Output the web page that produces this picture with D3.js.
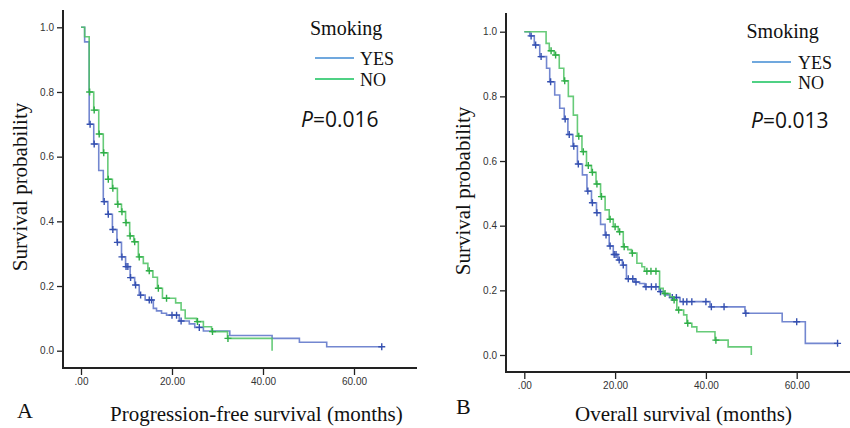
<!DOCTYPE html>
<html><head><meta charset="utf-8">
<script src="https://cdn.jsdelivr.net/npm/d3@7"></script>
<style>body{margin:0;background:#fff} svg{display:block}</style>
</head><body>
<svg id="c" width="850" height="428"></svg>
<script>
// ---------- data ----------
const yTicks = [0, 0.2, 0.4, 0.6, 0.8, 1.0];
const xTicks = [0, 20, 40, 60];
const seriesNames = ["YES", "NO"];
const legendTitle = "Smoking";
const panelLetters = ["A", "B"];
const xTitles = ["Progression-free survival (months)", "Overall survival (months)"];
const yTitle = "Survival probability";
const pLabels = ["0.016", "0.013"];

// Panel A: progression-free survival, smokers (YES)
const pfsYesTimes = [0, 0.8, 1.8, 2.8, 3.9, 4.9, 5.9, 6.9, 7.9, 8.9, 9.8, 10.8, 11.8, 12.8, 14.1, 15.9, 16.6, 17.7, 18.8, 21.6, 23.8, 25.0, 26.9, 32.7, 42.0, 48.0, 54.0];
const pfsYesSurv  = [1.0, 0.955, 0.70, 0.639, 0.557, 0.461, 0.422, 0.375, 0.335, 0.29, 0.26, 0.226, 0.203, 0.172, 0.157, 0.131, 0.123, 0.116, 0.11, 0.092, 0.083, 0.072, 0.061, 0.047, 0.038, 0.026, 0.012];
const pfsYesCensor = [2.0, 2.9, 5.1, 6.0, 7.0, 8.0, 9.0, 9.9, 10.3, 10.9, 12.0, 13.1, 15.0, 15.5, 20.0, 21.0, 22.0, 26.0, 66.1];
const pfsYesEnd = 66.1;
// Panel A: non-smokers (NO)
const pfsNoTimes = [0, 0.8, 1.8, 2.8, 3.9, 4.9, 5.9, 6.9, 8.0, 8.9, 9.8, 10.7, 11.6, 12.6, 13.7, 14.7, 15.8, 16.8, 17.9, 20.8, 22.0, 22.9, 25.4, 26.9, 28.7, 32.2, 42.0];
const pfsNoSurv  = [1.0, 0.971, 0.80, 0.744, 0.67, 0.612, 0.53, 0.502, 0.453, 0.43, 0.396, 0.355, 0.337, 0.29, 0.27, 0.247, 0.227, 0.193, 0.162, 0.148, 0.126, 0.10, 0.09, 0.074, 0.059, 0.038, 0.0];
const pfsNoCensor = [1.9, 2.9, 4.0, 5.0, 6.0, 7.0, 8.1, 9.0, 9.9, 10.8, 11.8, 12.8, 15.0, 17.0, 18.8, 25.6, 28.9, 32.3];
const pfsNoEnd = 42.0;

// Panel B: overall survival, smokers (YES)
const osYesTimes = [0, 1.2, 2.2, 3.4, 4.9, 5.6, 6.7, 7.8, 8.8, 9.6, 10.7, 11.7, 12.8, 13.8, 14.8, 15.9, 16.8, 17.8, 18.7, 19.6, 20.6, 21.6, 22.5, 24.3, 25.4, 26.5, 29.7, 30.8, 32.0, 34.3, 40.9, 48.6, 56.8, 61.9];
const osYesSurv  = [1.0, 0.987, 0.959, 0.923, 0.887, 0.845, 0.804, 0.763, 0.73, 0.682, 0.646, 0.591, 0.557, 0.507, 0.471, 0.44, 0.404, 0.371, 0.337, 0.311, 0.294, 0.278, 0.236, 0.226, 0.221, 0.211, 0.196, 0.186, 0.178, 0.165, 0.149, 0.129, 0.103, 0.036];
const osYesCensor = [1.5, 2.5, 3.7, 5.8, 9.0, 9.9, 10.9, 11.9, 14.0, 15.0, 16.0, 18.0, 18.9, 19.8, 20.2, 20.9, 21.8, 22.9, 23.9, 24.6, 26.8, 28.0, 29.0, 30.0, 32.6, 33.5, 35.0, 35.8, 36.9, 40.0, 41.2, 44.0, 48.8, 60.0, 69.0];
const osYesEnd = 69.0;
// Panel B: non-smokers (NO)
const osNoTimes = [0, 4.8, 5.5, 6.6, 7.7, 8.7, 9.7, 10.8, 11.7, 12.7, 13.7, 14.8, 15.8, 16.8, 17.8, 18.7, 19.6, 20.7, 21.8, 22.8, 23.6, 24.8, 25.9, 26.5, 29.8, 30.6, 32.1, 32.9, 33.6, 35.1, 35.8, 36.9, 38.0, 42.0, 44.9, 50.0];
const osNoSurv  = [1.0, 0.964, 0.941, 0.928, 0.887, 0.848, 0.80, 0.742, 0.677, 0.629, 0.586, 0.565, 0.529, 0.49, 0.449, 0.42, 0.397, 0.381, 0.335, 0.326, 0.315, 0.284, 0.273, 0.259, 0.206, 0.19, 0.18, 0.17, 0.139, 0.124, 0.098, 0.087, 0.072, 0.046, 0.025, 0.0];
const osNoCensor = [5.9, 6.9, 8.9, 12.0, 13.0, 14.1, 15.0, 16.0, 17.0, 18.9, 20.0, 21.0, 22.0, 23.8, 27.0, 27.9, 29.0, 31.0, 33.0, 34.0, 36.0, 42.2];
const osNoEnd = 50.0;

// ---------- styles ----------
const curveColors = ["#5a72c8", "#4cc262"];
const markColors = ["#3550b0", "#2fae48"];
const legendColors = ["#70a8de", "#4fd184"];
const serif = "'Liberation Serif','Times New Roman',serif";
const sans = "'Liberation Sans',Arial,sans-serif";

const svg = d3.select("#c");

const panels = [
  { x0: 81, x60: 354, y0: 350.7, y1: 27.3, axX: 63, axY: 368, axTop: 10, axRight: 417,
    series: [[pfsYesTimes, pfsYesSurv, pfsYesCensor, pfsYesEnd], [pfsNoTimes, pfsNoSurv, pfsNoCensor, pfsNoEnd]],
    leg: { x: 310, y: 35, lx: 315, lw: 39, ly: [58, 79], tx: 360, ty: [65, 86] },
    p: { x: 301, y: 127 }, letter: { x: 17, y: 418 }, xt: { x: 110, y: 421 }, yt: { x: 27, y: 187 } },
  { x0: 524.3, x60: 796.7, y0: 355, y1: 31.7, axX: 506, axY: 372, axTop: 13, axRight: 850,
    series: [[osYesTimes, osYesSurv, osYesCensor, osYesEnd], [osNoTimes, osNoSurv, osNoCensor, osNoEnd]],
    leg: { x: 746.5, y: 38, lx: 752, lw: 39, ly: [62, 82], tx: 798, ty: [69, 89] },
    p: { x: 751, y: 128 }, letter: { x: 456, y: 414 }, xt: { x: 575, y: 421 }, yt: { x: 470, y: 191 } }
];

panels.forEach((P, pi) => {
  const g = svg.append("g");
  const x = d3.scaleLinear().domain([0, 60]).range([P.x0, P.x60]);
  const y = d3.scaleLinear().domain([0, 1]).range([P.y0, P.y1]);

  // axes
  const ya = g.append("g").attr("transform", `translate(${P.axX},0)`)
    .call(d3.axisLeft(y).tickValues(yTicks).tickFormat(d3.format(".1f")).tickSize(6).tickPadding(3));
  const xa = g.append("g").attr("transform", `translate(0,${P.axY})`)
    .call(d3.axisBottom(x).tickValues(xTicks).tickFormat(d => d === 0 ? ".00" : d3.format(".2f")(d)).tickSize(7).tickPadding(3));
  [ya, xa].forEach(a => {
    a.select(".domain").remove();
    a.selectAll("line").attr("stroke", "#222").attr("stroke-width", 1.3);
    a.selectAll("text").attr("font-family", sans).attr("font-size", 10).attr("fill", "#333");
  });
  g.append("path").attr("d", `M${P.axX},${P.axTop}V${P.axY}H${P.axRight}`)
    .attr("fill", "none").attr("stroke", "#222").attr("stroke-width", 2);

  // curves
  const line = d3.line().x(d => x(d[0])).y(d => y(d[1])).curve(d3.curveStepAfter);
  P.series.forEach((s, si) => {
    const [times, surv, cens, end] = s;
    const pts = times.map((t, i) => [t, surv[i]]);
    if (end > times[times.length - 1]) pts.push([end, surv[surv.length - 1]]);
    g.append("path").datum(pts).attr("d", line)
      .attr("fill", "none").attr("stroke", curveColors[si]).attr("stroke-width", 1.6)
      .attr("stroke-opacity", 0.85);
    const sAt = c => { let v = surv[0]; times.forEach((t, i) => { if (t <= c) v = surv[i]; }); return v; };
    const m = g.append("g").attr("stroke", markColors[si]).attr("stroke-width", 1.4);
    cens.forEach(c => {
      const cx = x(c), cy = y(sAt(c));
      m.append("path").attr("d", `M${cx - 3.5},${cy}H${cx + 3.5}M${cx},${cy - 3.5}V${cy + 3.5}`);
    });
  });

  // legend
  g.append("text").attr("x", P.leg.x).attr("y", P.leg.y).text(legendTitle)
    .attr("font-family", serif).attr("font-size", 20).attr("fill", "#111");
  seriesNames.forEach((n, i) => {
    g.append("line").attr("x1", P.leg.lx).attr("x2", P.leg.lx + P.leg.lw)
      .attr("y1", P.leg.ly[i]).attr("y2", P.leg.ly[i])
      .attr("stroke", legendColors[i]).attr("stroke-width", 2);
    g.append("text").attr("x", P.leg.tx).attr("y", P.leg.ty[i]).text(n)
      .attr("font-family", serif).attr("font-size", 18).attr("fill", "#111");
  });

  // p-value
  const pt = g.append("text").attr("x", P.p.x).attr("y", P.p.y)
    .attr("font-family", "'Open Sans','Noto Sans',sans-serif").attr("font-size", 21).attr("fill", "#111");
  pt.append("tspan").attr("font-style", "italic").text("P");
  pt.append("tspan").text("=" + pLabels[pi]);

  // titles
  g.append("text").attr("x", P.letter.x).attr("y", P.letter.y).text(panelLetters[pi])
    .attr("font-family", serif).attr("font-size", 22).attr("fill", "#111");
  g.append("text").attr("x", P.xt.x).attr("y", P.xt.y).text(xTitles[pi])
    .attr("font-family", serif).attr("font-size", 21).attr("fill", "#111");
  g.append("text").attr("transform", `translate(${P.yt.x},${P.yt.y}) rotate(-90)`)
    .attr("text-anchor", "middle").text(yTitle)
    .attr("font-family", serif).attr("font-size", 21).attr("fill", "#111");
});
</script>
</body></html>
